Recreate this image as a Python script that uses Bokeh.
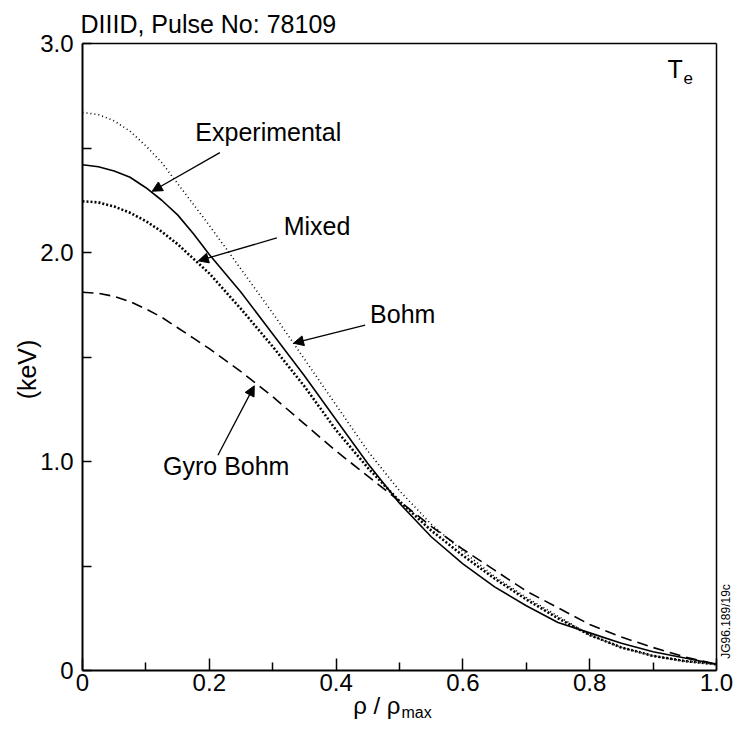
import math
from bokeh.plotting import figure
from bokeh.models import (Range1d, FixedTicker, CustomJSTickFormatter, Label,
                          Arrow, NormalHead, LinearAxis)
from bokeh.embed import file_html
from bokeh.resources import INLINE

# ---- data ----
rho = [0.000, 0.025, 0.050, 0.075, 0.100, 0.125, 0.150, 0.175, 0.200,
       0.25, 0.30, 0.35, 0.40, 0.45, 0.50, 0.55, 0.60, 0.65, 0.70, 0.75,
       0.80, 0.85, 0.90, 0.95, 1.00]
te_experimental = [2.42, 2.41, 2.39, 2.36, 2.31, 2.25, 2.18, 2.09, 1.99,
                   1.81, 1.61, 1.41, 1.20, 0.99, 0.80, 0.64, 0.51, 0.40, 0.31, 0.23,
                   0.18, 0.13, 0.09, 0.06, 0.03]
te_bohm = [2.67, 2.66, 2.63, 2.58, 2.51, 2.43, 2.33, 2.23, 2.13,
           1.92, 1.71, 1.49, 1.27, 1.05, 0.86, 0.70, 0.57, 0.45, 0.35, 0.26,
           0.17, 0.11, 0.07, 0.045, 0.03]
te_mixed = [2.245, 2.24, 2.22, 2.19, 2.15, 2.10, 2.04, 1.97, 1.90,
            1.73, 1.55, 1.36, 1.15, 0.97, 0.81, 0.67, 0.55, 0.44, 0.34, 0.25,
            0.17, 0.11, 0.07, 0.045, 0.03]
te_gyro_bohm = [1.81, 1.805, 1.79, 1.765, 1.73, 1.69, 1.64, 1.59, 1.54,
                1.43, 1.31, 1.18, 1.05, 0.93, 0.81, 0.69, 0.58, 0.48, 0.38, 0.30,
                0.22, 0.16, 0.11, 0.065, 0.03]

x_ticks = [0, 0.2, 0.4, 0.6, 0.8, 1.0]
x_minor = [0.1, 0.3, 0.5, 0.7, 0.9]
y_ticks = [0, 1, 2, 3]
y_minor = [0.5, 1.5, 2.5]

FONT = "Liberation Sans"

# ---- geometry (figure pixels) ----
W, H = 733, 724
FX0, FX1 = 82, 716      # x = 0 and x = 1
FY3, FY0 = 43, 670      # y = 3 and y = 0
sx = (FX1 - FX0) / 1.0
sy = (FY0 - FY3) / 3.0
x_range = Range1d(-FX0 / sx, 1 + (W - FX1) / sx)
y_range = Range1d(-(H - FY0) / sy, 3 + FY3 / sy)


def X(px):   # pixel x -> data
    return (px - FX0) / sx


def Y(py):   # pixel y -> data
    return (FY0 - py) / sy


def Yb(py_baseline, size):   # baseline pixel -> data y of the text's middle
    return Y(py_baseline - 0.3465 * size)


p = figure(width=W, height=H, output_backend="svg", toolbar_location=None,
           x_range=x_range, y_range=y_range,
           x_axis_location=None, y_axis_location=None, min_border=0)
p.title.visible = False
p.outline_line_color = None
p.xgrid.visible = False
p.ygrid.visible = False
p.background_fill_color = "white"
p.border_fill_color = "white"

fmt = CustomJSTickFormatter(code="return tick == 0 ? '0' : tick.toFixed(1);")

common = dict(formatter=fmt, major_tick_out=0, minor_tick_out=0, axis_line_width=2,
              axis_line_color="black", major_tick_line_color="black",
              minor_tick_line_color="black",
              major_tick_line_width=1.5, minor_tick_line_width=1.5,
              major_label_text_font=FONT, major_label_text_color="black",
              major_label_text_font_size="24px")

xaxis = LinearAxis(fixed_location=0, bounds=(0, 1),
                   ticker=FixedTicker(ticks=x_ticks, minor_ticks=x_minor),
                   major_tick_in=12, minor_tick_in=8, major_label_standoff=3, **common)
p.add_layout(xaxis, "below")

yaxis = LinearAxis(fixed_location=0, bounds=(0, 3),
                   ticker=FixedTicker(ticks=y_ticks, minor_ticks=y_minor),
                   major_tick_in=9, minor_tick_in=9, major_label_standoff=9, **common)
p.add_layout(yaxis, "left")

for side, loc, bnds in (("above", 3, (0, 1)), ("right", 1, (0, 3))):
    ax = LinearAxis(fixed_location=loc, bounds=bnds, ticker=FixedTicker(ticks=[]),
                    major_tick_line_color=None, minor_tick_line_color=None,
                    major_label_text_font_size="0px", axis_line_width=1.5,
                    axis_line_color="black")
    p.add_layout(ax, side)

# curves
p.line(rho, te_experimental, line_color="black", line_width=1.6)
p.line(rho, te_bohm, line_color="black", line_width=1.6, line_dash="1 3")
p.line(rho, te_mixed, line_color="black", line_width=2.6, line_dash="2 2")
p.line(rho, te_gyro_bohm, line_color="black", line_width=1.6, line_dash="11 6")


def lab(x, y, t, size=25, align="left", angle=0.0):
    p.add_layout(Label(x=x, y=y, text=t, text_font=FONT, text_font_size=f"{size}px",
                       text_align=align, text_baseline="middle", angle=angle,
                       text_color="black"))


def arr(x0, y0, x1, y1):
    p.add_layout(Arrow(end=NormalHead(size=10, fill_color="black", line_color="black"),
                       x_start=x0, y_start=y0, x_end=x1, y_end=y1,
                       line_color="black", line_width=1.3))


# curve labels and arrows (data coordinates)
lab(0.178, 2.575, "Experimental")
arr(0.2167, 2.478, 0.1099, 2.293)
lab(0.3173, 2.125, "Mixed")
arr(0.3065, 2.070, 0.1827, 1.960)
lab(0.4536, 1.705, "Bohm")
arr(0.4458, 1.652, 0.3328, 1.566)
lab(0.127, 0.980, "Gyro Bohm")
arr(0.2136, 1.030, 0.2709, 1.362)

# T_e
lab(X(667), Yb(77, 25), "T")
lab(X(683), Yb(83, 17), "e", size=17)

# texts around the frame (pixel placement)
lab(X(80), Yb(32, 25), "DIIID, Pulse No: 78109")
lab(X(26), Y(369), "(keV)", align="center", angle=math.pi / 2)
lab(X(400), Yb(713, 24), "\u03c1 / \u03c1", size=24, align="right")
lab(X(401), Yb(718, 16), "max", size=16)
lab(X(725), Y(621), "JG96.189/19c", size=12, align="center", angle=math.pi / 2)

open("out.html", "w").write(file_html(p, INLINE))
